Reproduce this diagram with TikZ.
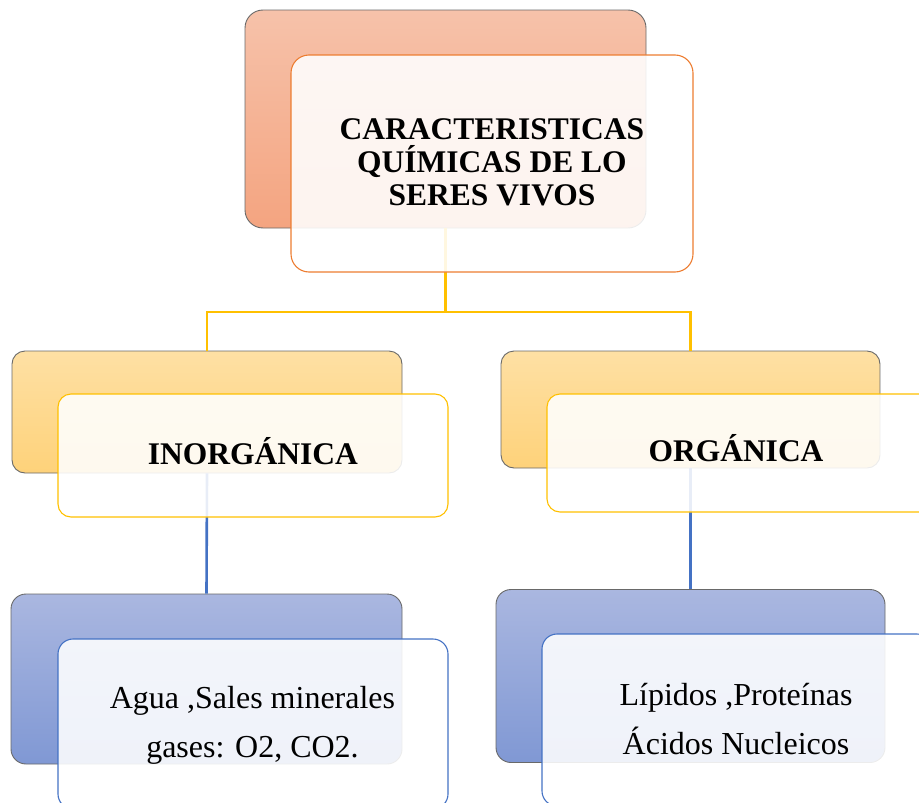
\documentclass[tikz,border=0pt]{standalone}
\usepackage{fontspec}
\setmainfont{Liberation Serif}
\definecolor{peachT}{RGB}{246,194,170}
\definecolor{peachB}{RGB}{244,164,128}
\definecolor{goldT}{RGB}{254,224,164}
\definecolor{goldB}{RGB}{254,210,122}
\definecolor{blueT}{RGB}{170,183,224}
\definecolor{blueB}{RGB}{128,152,212}
\definecolor{orangeLine}{RGB}{237,125,49}
\definecolor{goldLine}{RGB}{255,192,0}
\definecolor{blueLine}{RGB}{68,114,196}
\definecolor{backEdge}{RGB}{105,105,105}
\begin{document}
\begin{tikzpicture}[x=1pt,y=-1pt,
  backbox/.style={draw=backEdge, line width=0.9pt, rectangle, inner sep=0pt},
  frontbox/.style={rectangle, inner sep=0pt, fill=white, fill opacity=0.88, line width=1.1pt},
  boldtxt/.style={font=\bfseries\fontsize{31.5}{33}\selectfont, align=center, inner sep=0pt},
  plaintxt/.style={font=\fontsize{32}{49}\selectfont, align=center, inner sep=0pt},
  goldconn/.style={draw=goldLine, line width=2.8pt},
  blueconn/.style={draw=blueLine, line width=2.6pt}]
\useasboundingbox (0,0) rectangle (919,803);
\clip (0,0) rectangle (919,803);
% back boxes
\node[backbox, rounded corners=18pt, top color=peachT, bottom color=peachB,
  minimum width=401pt, minimum height=218pt] (tb) at (445.5,119) {};
\node[backbox, rounded corners=13pt, top color=goldT, bottom color=goldB,
  minimum width=390pt, minimum height=122pt] (lb) at (207,412) {};
\node[backbox, rounded corners=13pt, top color=goldT, bottom color=goldB,
  minimum width=379pt, minimum height=117pt] (rb) at (690.5,409.5) {};
\node[backbox, rounded corners=15pt, top color=blueT, bottom color=blueB,
  minimum width=391pt, minimum height=170pt] (blb) at (206.5,679) {};
\node[backbox, rounded corners=15pt, top color=blueT, bottom color=blueB,
  minimum width=389pt, minimum height=173pt] (brb) at (690.5,676) {};
% connectors
\coordinate (jn) at (445.5,312);
\draw[goldconn] (tb.south) -- (jn) -| (lb.north);
\draw[goldconn] (jn) -| (rb.north);
\draw[blueconn] (lb.south) -- (blb.north);
\draw[blueconn] (rb.south) -- (brb.north);
% front boxes
\node[frontbox, draw=orangeLine, rounded corners=18pt,
  minimum width=402pt, minimum height=217pt] (tf) at (492,163.5) {};
\node[frontbox, draw=goldLine, rounded corners=13pt,
  minimum width=390pt, minimum height=123pt] (lf) at (253,455.5) {};
\node[frontbox, draw=goldLine, rounded corners=13pt,
  minimum width=390pt, minimum height=118pt] (rf) at (742,453) {};
\node[frontbox, draw=blueLine, rounded corners=15pt,
  minimum width=390pt, minimum height=170pt] (blf) at (253,724) {};
\node[frontbox, draw=blueLine, rounded corners=15pt,
  minimum width=390pt, minimum height=172pt] (brf) at (737,720) {};
% texts
\node[boldtxt] (tt) at (492,162) {CARACTERISTICAS\\QUÍMICAS DE LO\\SERES VIVOS};
\node[boldtxt] (lt) at (253,451.5) {INORGÁNICA};
\node[boldtxt] (rt) at (736,448.5) {ORGÁNICA};
\node[plaintxt] (blt) at (252.5,725) {Agua ,Sales minerales\\gases: O2, CO2.};
\node[plaintxt] (brt) at (736,719) {Lípidos ,Proteínas\\Ácidos Nucleicos};
\end{tikzpicture}
\end{document}
